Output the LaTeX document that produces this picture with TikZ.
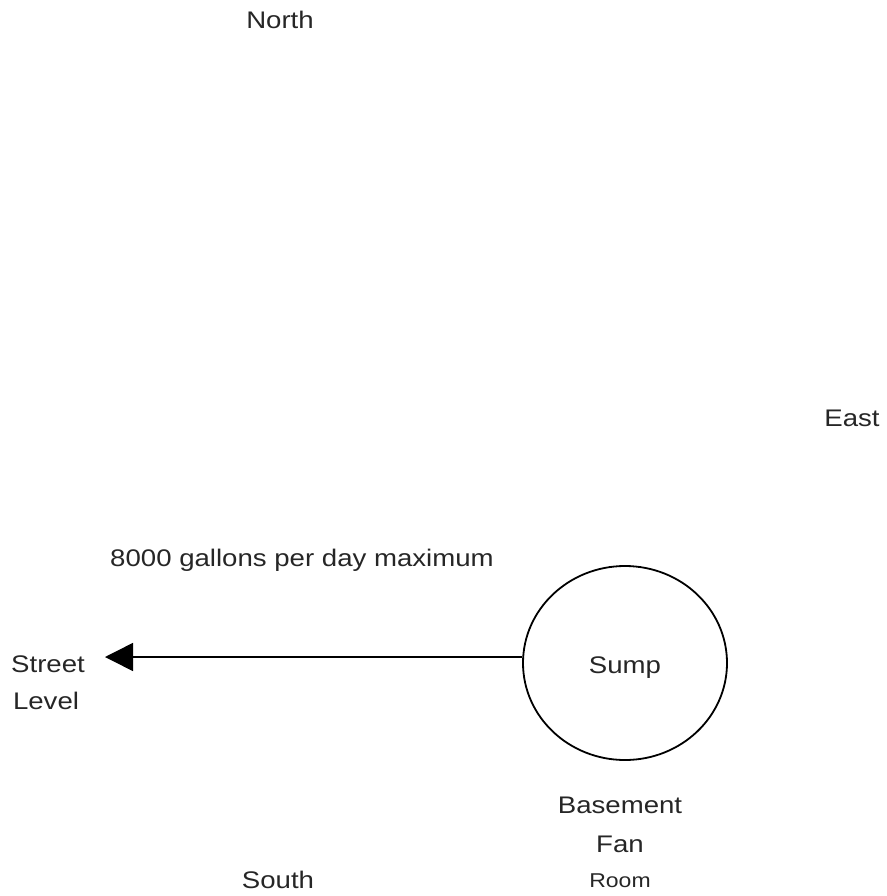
\documentclass[tikz,border=0pt]{standalone}
\usepackage{fontspec}
\setmainfont[FakeStretch=1.15]{Liberation Sans}
\usetikzlibrary{arrows.meta,shapes.geometric}
\begin{document}
\begin{tikzpicture}[x=1pt,y=-1pt,
  lbl/.style={font=\fontsize{24}{28}\selectfont, text=black!85},
  sumpring/.style={ellipse, draw, line width=1.8pt, minimum width=204pt, minimum height=194pt, inner sep=0pt}]
\useasboundingbox (0,0) rectangle (886,896);
\node[lbl] (north) at (280,20) {North};
\node[lbl] (east) at (852,418) {East};
\node[lbl] (south) at (278,880) {South};
\node[lbl] (rate) at (302,560) {8000 gallons per day maximum};
\node[lbl] (street) at (48,664) {Street};
\node[lbl] (level) at (46,701) {Level};
\node[sumpring] (sump) at (625,663) {};
\node[lbl] at ([yshift=-5pt]sump.center) {Sump};
\node[lbl] (basement) at (620,805) {Basement};
\node[lbl] (fan) at (620,844) {Fan};
\node[lbl, font=\fontsize{20}{24}\selectfont] (room) at (620,881) {Room};
\coordinate (tip) at (105,657);
\draw[line width=1.5pt, -{Triangle[length=28pt,width=28pt]}] (sump.west |- 0,657) -- (tip);
\end{tikzpicture}
\end{document}
